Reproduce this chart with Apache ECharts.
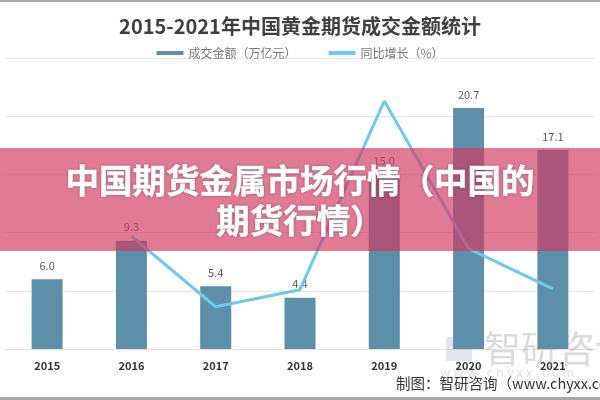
<!DOCTYPE html>
<html>
<head>
<meta charset="utf-8">
<script src="https://cdn.jsdelivr.net/npm/echarts@6/dist/echarts.min.js"></script>
<style>
    html, body {margin: 0; padding: 0; background: #fff;}
    #chart_1 {width: 600px; height: 400px;}
</style>
</head>
<body>
<div id="chart_1"></div>
<script>
var years = ['2015', '2016', '2017', '2018', '2019', '2020', '2021'];
// 成交金额（万亿元）
var amount = [6.0, 9.3, 5.4, 4.4, 15.0, 20.7, 17.1];
// 同比增长（%），2015 无数据
var growth = [null, 55.0, -41.9, -18.5, 240.9, 38.0, -17.4];

var font = '"Noto Sans CJK SC", "Noto Sans", sans-serif';

var myChart = echarts.init(document.getElementById('chart_1'));
var option = {
    animation: false,
    textStyle: {fontFamily: font},
    title: {
        text: '2015-2021年中国黄金期货成交金额统计',
        left: 'center',
        top: 11,
        textStyle: {fontSize: 20, fontWeight: 'bold', color: '#404040', fontFamily: font}
    },
    legend: {
        top: 42,
        left: 'center',
        itemGap: 32,
        itemWidth: 27,
        itemHeight: 4,
        textStyle: {fontSize: 12, color: '#777', fontFamily: font},
        data: [
            {name: '成交金额（万亿元）', icon: 'rect'},
            {name: '同比增长（%）', icon: 'rect'}
        ]
    },
    grid: {left: 5, right: 5, top: 58, bottom: 51},
    xAxis: [{
        type: 'category',
        data: years,
        axisTick: {show: false},
        axisLine: {lineStyle: {color: '#e3e3e3'}},
        axisLabel: {fontSize: 11, fontWeight: 'bold', color: '#333', margin: 11}
    }],
    yAxis: [
        {
            type: 'value',
            min: 0,
            max: 25,
            interval: 5,
            axisLabel: {show: false},
            axisLine: {show: false},
            axisTick: {show: false},
            splitLine: {lineStyle: {color: '#e6e6e6'}}
        },
        {
            type: 'value',
            min: -100,
            max: 300,
            interval: 80,
            show: false,
            splitLine: {show: false}
        }
    ],
    series: [
        {
            name: '成交金额（万亿元）',
            type: 'bar',
            barWidth: 31,
            data: amount,
            itemStyle: {color: '#5e8fa8'},
            label: {
                show: true,
                position: 'top',
                distance: 8,
                fontSize: 11,
                color: '#595959',
                formatter: function (p) {
                    return p.value.toFixed(1);
                }
            }
        },
        {
            name: '同比增长（%）',
            type: 'line',
            yAxisIndex: 1,
            symbol: 'none',
            data: growth,
            lineStyle: {color: '#6ec9ec', width: 3},
            itemStyle: {color: '#6ec9ec'}
        }
    ],
    graphic: [
        // 顶部/底部边框
        {type: 'rect', left: 0, top: 0, shape: {width: 600, height: 2}, style: {fill: '#a8a8a8'}},
        {type: 'rect', left: 0, top: 397, shape: {width: 600, height: 3}, style: {fill: '#a8a8a8'}},
        // 水印
        {type: 'rect', left: 446, top: 337, shape: {width: 26, height: 24}, style: {fill: 'rgba(120,140,160,0.22)'}, z: 1},
        {type: 'text', left: 484, top: 330, style: {text: '智研咨询', fontSize: 37, fill: 'rgba(140,140,140,0.32)', fontFamily: font}, z: 1},
        {type: 'text', left: 440, top: 366, style: {text: 'w w w . c h y x x . c o m', fontSize: 13, fill: 'rgba(160,160,160,0.35)', fontFamily: font}, z: 1},
        {type: 'text', left: 396, top: 376, style: {text: '制图：智研咨询（www.chyxx.com）', fontSize: 14.5, fill: '#333', fontFamily: font}, z: 10},
        // 粉色横幅
        {type: 'rect', left: 0, top: 148, shape: {width: 600, height: 103}, style: {fill: 'rgba(209,57,97,0.67)'}, z: 100},
        {
            type: 'text',
            left: 'center',
            top: 160,
            z: 101,
            style: {
                text: '中国期货金属市场行情（中国的\n期货行情）',
                textAlign: 'center',
                fontSize: 33.5,
                lineHeight: 40,
                fontWeight: 'bold',
                fill: '#fff',
                fontFamily: font,
                stroke: '#fff',
                lineWidth: 0.6,
                textShadowColor: 'rgba(0,0,0,0.25)',
                textShadowBlur: 3
            }
        }
    ]
};

myChart.setOption(option);
</script>
</body>
</html>
